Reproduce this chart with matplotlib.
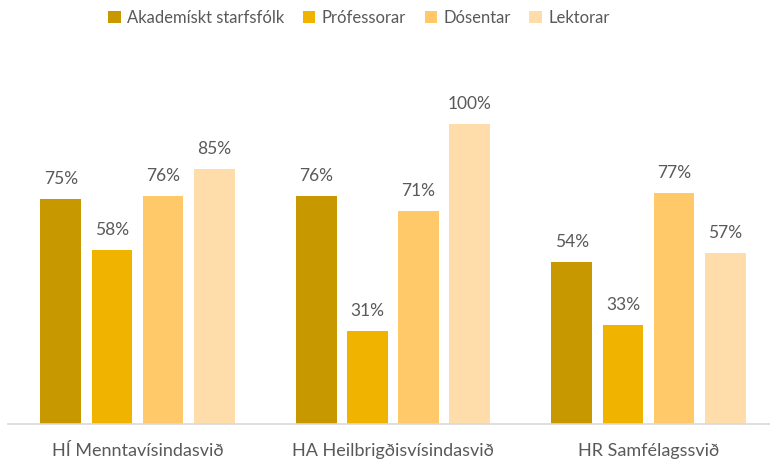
import matplotlib.pyplot as plt
import numpy as np

categories = ["HÍ Menntavísindasvið", "HA Heilbrigðisvísindasvið", "HR Samfélagssvið"]
series_names = ["Akademískt starfsfólk", "Prófessorar", "Dósentar", "Lektorar"]
akademiskt = [75, 76, 54]
professorar = [58, 31, 33]
dosentar = [76, 71, 77]
lektorar = [85, 100, 57]
colors = ["#C89800", "#F0B400", "#FFC869", "#FFDDAA"]

plt.rcParams['font.family'] = ['Lato', 'DejaVu Sans']
txt = "#595959"

fig = plt.figure(figsize=(7.7, 4.61), dpi=100)
ax = fig.add_axes([8 / 770, 37 / 461, 762 / 770, 360 / 461])

x = np.arange(len(categories))
width = 0.16
step = 0.2
all_series = [akademiskt, professorar, dosentar, lektorar]
for i, (name, vals) in enumerate(zip(series_names, all_series)):
    pos = x + (i - 1.5) * step
    bars = ax.bar(pos, vals, width, color=colors[i], label=name)
    for b, v in zip(bars, vals):
        ax.text(b.get_x() + b.get_width() / 2, v + 4, f"{v}%", ha="center", va="bottom",
                fontsize=12.5, color=txt)

ax.set_ylim(0, 120)
ax.set_xlim((8 - 137.5) / 255.5, (770 - 137.5) / 255.5)
ax.set_xticks(x)
ax.set_xticklabels(categories, fontsize=13, color=txt)
ax.tick_params(axis="x", length=0, pad=14)
ax.set_yticks([])
for s in ["top", "right", "left"]:
    ax.spines[s].set_visible(False)
ax.spines["bottom"].set_color("#D9D9D9")
ax.spines["bottom"].set_linewidth(1.2)

fig.legend(loc="center", bbox_to_anchor=(359 / 770, 1 - 18 / 461), ncol=4, frameon=False,
           fontsize=12, handlelength=0.75, handleheight=0.75, handletextpad=0.4,
           columnspacing=1.1, labelcolor=txt)

fig.savefig("out.png", dpi=100)
